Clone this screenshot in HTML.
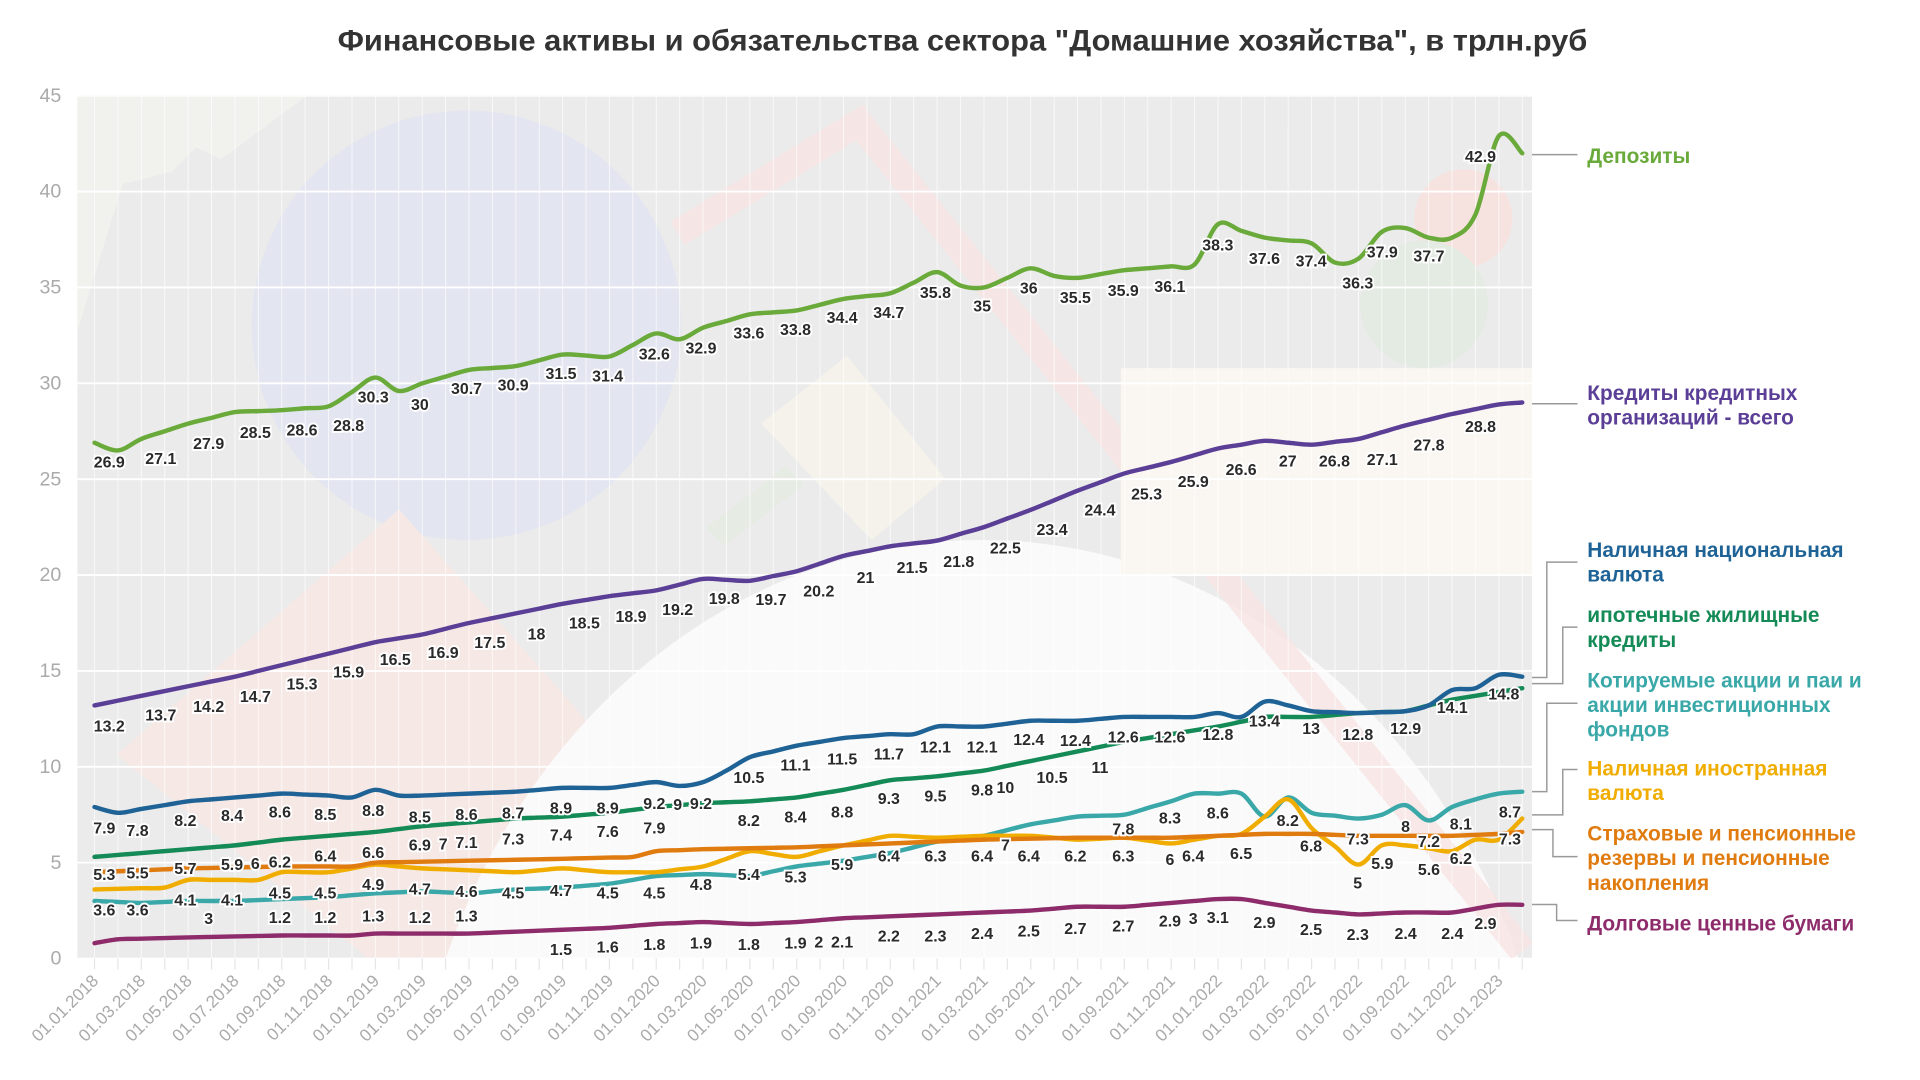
<!DOCTYPE html>
<html><head><meta charset="utf-8"><style>html,body{margin:0;padding:0;background:#fff;width:1920px;height:1080px;overflow:hidden}svg{display:block;overflow:hidden}</style></head>
<body>
<svg id="s" width="1920" height="1080" viewBox="0 0 1564 880" preserveAspectRatio="none" xmlns="http://www.w3.org/2000/svg" font-family="'Liberation Sans Narrow','Liberation Sans',sans-serif">
<text x="784" y="41" text-anchor="middle" font-family="'Liberation Sans',sans-serif" font-weight="bold" font-size="24" fill="#333" textLength="1018" lengthAdjust="spacingAndGlyphs">Финансовые активы и обязательства сектора "Домашние хозяйства", в трлн.руб</text>
<defs><clipPath id="cp"><rect x="63" y="78" width="1185" height="703"/></clipPath></defs>
<rect x="63" y="78" width="1185" height="703" fill="#ebebeb"/>
<g clip-path="url(#cp)">
<polygon points="63,270 100,150 140,140 160,120 180,130 250,78 63,78" fill="#f3f3f0" opacity="0.7"/>
<circle cx="380" cy="265" r="175" fill="#e3e5f0"/>
<polygon points="95,615 325,415 650,781 300,781" fill="#f6e8e5"/>
<ellipse cx="800" cy="980" rx="470" ry="540" fill="#fafafa"/>
<polyline points="552,190 700,100 1240,775" fill="none" stroke="#f7e4e2" stroke-width="22" opacity="0.8"/>
<polygon points="690,290 770,390 710,440 620,345" fill="#f4f2ea"/>
<polygon points="575,430 640,380 655,395 590,445" fill="#e6ece4"/>
<rect x="913" y="300" width="335" height="168" fill="#faf6f1"/>
<circle cx="1192" cy="178" r="40" fill="#f6e2df"/>
<circle cx="1160" cy="248" r="52" fill="#e3ebe3"/>
<g id="grid"></g>
</g>
<g id="axes" fill="#aaa" font-size="16"></g>
<g id="lines" fill="none" stroke-width="3.6" stroke-linejoin="round" stroke-linecap="round"></g>
<g id="labels" font-size="13" font-weight="bold" fill="#2a2a2a" text-anchor="middle" stroke="#fff" stroke-width="3" paint-order="stroke"></g>
<g fill="none" stroke="#999" stroke-width="1.2">
<polyline points="1248,126 1285,126"/>
<polyline points="1248,329 1285,329"/>
<polyline points="1248,552 1260,552 1260,458 1285,458"/>
<polyline points="1248,557 1273,557 1273,511 1285,511"/>
<polyline points="1248,645 1260,645 1260,573 1285,573"/>
<polyline points="1248,664 1273,664 1273,627 1285,627"/>
<polyline points="1248,676 1265,676 1265,698 1285,698"/>
<polyline points="1248,737 1268,737 1268,750 1285,750"/>
</g>
<g font-size="17" font-weight="bold">
<text x="1293" y="133" fill="#6aaa3a">Депозиты</text>
<text x="1293" y="326" fill="#5b3e96">Кредиты кредитных</text><text x="1293" y="346" fill="#5b3e96">организаций - всего</text>
<text x="1293" y="454" fill="#1f6396">Наличная национальная</text><text x="1293" y="474" fill="#1f6396">валюта</text>
<text x="1293" y="507" fill="#148a56">ипотечные жилищные</text><text x="1293" y="527" fill="#148a56">кредиты</text>
<text x="1293" y="560" fill="#3aa8a8">Котируемые акции и паи и</text><text x="1293" y="580" fill="#3aa8a8">акции инвестиционных</text><text x="1293" y="600" fill="#3aa8a8">фондов</text>
<text x="1293" y="632" fill="#f0ad00">Наличная иностранная</text><text x="1293" y="652" fill="#f0ad00">валюта</text>
<text x="1293" y="685" fill="#e07b10">Страховые и пенсионные</text><text x="1293" y="705" fill="#e07b10">резервы и пенсионные</text><text x="1293" y="725" fill="#e07b10">накопления</text>
<text x="1293" y="758" fill="#8e2c6b">Долговые ценные бумаги</text>
</g>
</svg>
<script>
const NS="http://www.w3.org/2000/svg";
const X=i=>77+i*(1240-77)/61, Y=v=>781-v*15.622;
function el(p,t,a,txt){const e=document.createElementNS(NS,t);for(const k in a)e.setAttribute(k,a[k]);if(txt!==undefined)e.textContent=txt;document.getElementById(p).appendChild(e);return e;}
for(let i=0;i<62;i++)el('grid','line',{x1:X(i),x2:X(i),y1:78,y2:781,stroke:'#fff','stroke-width':0.8,opacity:0.7});
for(let v=0;v<=45;v+=5){el('grid','line',{x1:63,x2:1248,y1:Y(v),y2:Y(v),stroke:'#fff','stroke-width':1.5});
 el('axes','text',{x:50,y:Y(v)+5,'text-anchor':'end'},v);}
const months=['01','03','05','07','09','11'];
for(let i=0;i<=61;i++){el('axes','line',{x1:X(i),x2:X(i),y1:781,y2:790,stroke:'#e6e6e6','stroke-width':1});}
for(let i=0;i<=60;i+=2){const yr=2018+Math.floor(i/12);const m=months[(i%12)/2];
 el('axes','text',{x:X(i)+4,y:800,'text-anchor':'end','font-size':14,fill:'#aaa',transform:`rotate(-45 ${X(i)+4} 800)`},`01.${m}.${yr}`);}
function series(pts){pts.sort((a,b)=>a[0]-b[0]);const arr=[];
 for(let i=0;i<=61;i++){let k=0;while(k<pts.length-1&&pts[k+1][0]<i)k++;
  const a=pts[k],b=pts[Math.min(k+1,pts.length-1)];
  let v;const ex=pts.find(p=>p[0]===i);if(ex)v=ex[1];else{const t=(i-a[0])/((b[0]-a[0])||1);v=a[1]+(b[1]-a[1])*t;}
  arr.push([X(i),Y(v)]);}
 let d=`M${arr[0][0]},${arr[0][1]}`;
 for(let i=0;i<arr.length-1;i++){const p0=arr[Math.max(i-1,0)],p1=arr[i],p2=arr[i+1],p3=arr[Math.min(i+2,arr.length-1)];
  d+=`C${p1[0]+(p2[0]-p0[0])/6},${p1[1]+(p2[1]-p0[1])/6} ${p2[0]-(p3[0]-p1[0])/6},${p2[1]-(p3[1]-p1[1])/6} ${p2[0]},${p2[1]}`;}
 return d;}
function even(list,extra){const p=list.map((v,k)=>[k*2,v]);(extra||[]).forEach(e=>{const j=p.findIndex(q=>q[0]===e[0]);if(j>=0)p[j]=e;else p.push(e);});return p;}
const S=[
['#8e2c6b',[[0,0.8],[1,1.0],[4,1.1],[8,1.2],[10,1.2],[11,1.2],[12,1.3],[16,1.3],[18,1.4],[20,1.5],[22,1.6],[24,1.8],[26,1.9],[28,1.8],[30,1.9],[32,2.1],[34,2.2],[36,2.3],[38,2.4],[40,2.5],[42,2.7],[44,2.7],[46,2.9],[48,3.1],[49,3.1],[50,2.9],[52,2.5],[54,2.3],[56,2.4],[58,2.4],[60,2.8],[61,2.8]]],
['#3aa8a8',[[0,3.0],[2,2.9],[4,3.0],[6,3.0],[8,3.1],[10,3.2],[12,3.4],[14,3.5],[16,3.4],[18,3.6],[20,3.7],[22,3.9],[24,4.3],[26,4.4],[28,4.3],[30,4.8],[32,5.1],[34,5.5],[36,6.1],[38,6.4],[40,7.0],[42,7.4],[44,7.5],[46,8.2],[47,8.6],[49,8.6],[50,7.4],[51,8.4],[52,7.6],[54,7.3],[55,7.5],[56,8.0],[57,7.2],[58,7.9],[59,8.3],[60,8.6],[61,8.7]]],
['#f0ad00',[[0,3.6],[3,3.7],[4,4.1],[7,4.1],[8,4.5],[10,4.5],[12,4.9],[14,4.7],[16,4.6],[18,4.5],[20,4.7],[22,4.5],[24,4.5],[26,4.8],[28,5.6],[30,5.3],[32,5.9],[34,6.4],[36,6.3],[38,6.4],[40,6.4],[42,6.2],[44,6.3],[46,6.0],[48,6.4],[49,6.5],[51,8.3],[52,6.8],[54,4.9],[55,5.9],[56,5.9],[58,5.6],[59,6.2],[60,6.2],[61,7.3]]],
['#e07b10',[[0,4.5],[4,4.7],[8,4.8],[11,4.8],[12,5.0],[16,5.1],[20,5.2],[23,5.3],[24,5.6],[26,5.7],[30,5.8],[34,6.0],[38,6.2],[42,6.3],[46,6.3],[50,6.5],[52,6.5],[54,6.4],[58,6.4],[60,6.5],[61,6.6]]],
['#148a56',[[0,5.3],[2,5.5],[4,5.7],[6,5.9],[8,6.2],[10,6.4],[12,6.6],[14,6.9],[16,7.1],[18,7.3],[20,7.4],[22,7.6],[24,7.9],[26,8.1],[28,8.2],[30,8.4],[32,8.8],[34,9.3],[36,9.5],[38,9.8],[40,10.3],[42,10.8],[44,11.3],[46,11.7],[48,12.1],[50,12.6],[52,12.6],[54,12.8],[56,12.9],[58,13.5],[60,13.9],[61,14.1]]],
['#1f6396',[[0,7.9],[1,7.6],[2,7.8],[4,8.2],[6,8.4],[8,8.6],[10,8.5],[11,8.4],[12,8.8],[13,8.5],[14,8.5],[16,8.6],[18,8.7],[20,8.9],[22,8.9],[24,9.2],[25,9.0],[26,9.2],[27,9.8],[28,10.5],[30,11.1],[32,11.5],[34,11.7],[35,11.7],[36,12.1],[38,12.1],[40,12.4],[42,12.4],[44,12.6],[46,12.6],[47,12.6],[48,12.8],[49,12.6],[50,13.4],[51,13.2],[52,12.9],[54,12.8],[56,12.9],[57,13.2],[58,14.0],[59,14.1],[60,14.8],[61,14.7]]],
['#5b3e96',even([13.2,13.7,14.2,14.7,15.3,15.9,16.5,16.9,17.5,18,18.5,18.9,19.2,19.8,19.7,20.2,21,21.5,21.8,22.5,23.4,24.4,25.3,25.9,26.6,27,26.8,27.1,27.8,28.4,28.9],[[61,29.0]])],
['#6aaa3a',even([26.9,27.1,27.9,28.5,28.6,28.8,30.3,30,30.7,30.9,31.5,31.4,32.6,32.9,33.6,33.8,34.4,34.7,35.8,35,36,35.5,35.9,36.1,38.3,37.6,37.3,36.3,38.1,37.6,42.9],[[1,26.5],[13,29.6],[25,32.3],[37,35.1],[41,35.6],[47,36.2],[53,36.3],[54,36.5],[55,37.9],[56,38.1],[57,37.6],[59,38.8],[61,42.0]])]
];
S.forEach(s=>el('lines','path',{d:series(s[1]),stroke:s[0]}));
const L=[[89,376,"26.9"],[131,373,"27.1"],[170,361,"27.9"],[208,352,"28.5"],[246,350,"28.6"],[284,346,"28.8"],[304,323,"30.3"],[342,329,"30"],[380,316,"30.7"],[418,313,"30.9"],[457,304,"31.5"],[495,306,"31.4"],[533,288,"32.6"],[571,283,"32.9"],[610,271,"33.6"],[648,268,"33.8"],[686,258,"34.4"],[724,254,"34.7"],[762,238,"35.8"],[800,249,"35"],[838,234,"36"],[876,242,"35.5"],[915,236,"35.9"],[953,233,"36.1"],[992,199,"38.3"],[1030,210,"37.6"],[1068,212,"37.4"],[1106,230,"36.3"],[1126,205,"37.9"],[1164,208,"37.7"],[1206,127,"42.9"],
[89,591,"13.2"],[131,582,"13.7"],[170,575,"14.2"],[208,567,"14.7"],[246,557,"15.3"],[284,547,"15.9"],[322,537,"16.5"],[361,531,"16.9"],[399,523,"17.5"],[437,516,"18"],[476,507,"18.5"],[514,502,"18.9"],[552,496,"19.2"],[590,487,"19.8"],[628,488,"19.7"],[667,481,"20.2"],[705,470,"21"],[743,462,"21.5"],[781,457,"21.8"],[819,446,"22.5"],[857,431,"23.4"],[896,415,"24.4"],[934,402,"25.3"],[972,392,"25.9"],[1011,382,"26.6"],[1049,375,"27"],[1087,375,"26.8"],[1126,374,"27.1"],[1164,362,"27.8"],[1206,347,"28.8"],
[85,674,"7.9"],[112,676,"7.8"],[151,668,"8.2"],[189,664,"8.4"],[228,661,"8.6"],[265,663,"8.5"],[304,660,"8.8"],[342,665,"8.5"],[380,663,"8.6"],[418,662,"8.7"],[457,658,"8.9"],[495,658,"8.9"],[533,654,"9.2"],[552,655,"9"],[571,654,"9.2"],[610,633,"10.5"],[648,623,"11.1"],[686,618,"11.5"],[724,614,"11.7"],[762,608,"12.1"],[800,608,"12.1"],[838,602,"12.4"],[876,603,"12.4"],[915,600,"12.6"],[953,600,"12.6"],[992,598,"12.8"],[1030,587,"13.4"],[1068,593,"13"],[1106,598,"12.8"],[1145,593,"12.9"],[1183,576,"14.1"],[1225,565,"14.8"],
[610,668,"8.2"],[648,665,"8.4"],[686,661,"8.8"],[724,650,"9.3"],[762,648,"9.5"],[800,643,"9.8"],[819,641,"10"],[857,633,"10.5"],[896,625,"11"],[342,688,"6.9"],[361,687,"7"],[380,686,"7.1"],[418,683,"7.3"],[457,680,"7.4"],[495,677,"7.6"],[533,674,"7.9"],
[85,712,"5.3"],[112,711,"5.5"],[151,707,"5.7"],[189,704,"5.9"],[208,703,"6"],[228,702,"6.2"],[265,697,"6.4"],[304,694,"6.6"],
[85,741,"3.6"],[112,741,"3.6"],[151,733,"4.1"],[189,733,"4.1"],[228,727,"4.5"],[265,727,"4.5"],[304,720,"4.9"],[342,724,"4.7"],[380,726,"4.6"],[418,727,"4.5"],[457,725,"4.7"],[495,727,"4.5"],[533,727,"4.5"],[571,720,"4.8"],[610,712,"5.4"],[648,714,"5.3"],[686,704,"5.9"],[724,697,"6.4"],[762,697,"6.3"],[800,697,"6.4"],[819,688,"7"],[838,697,"6.4"],[876,697,"6.2"],[915,697,"6.3"],[953,700,"6"],[972,697,"6.4"],[1011,695,"6.5"],[915,675,"7.8"],[953,666,"8.3"],[992,662,"8.6"],[1049,668,"8.2"],[1068,689,"6.8"],[1106,683,"7.3"],[1106,719,"5"],[1126,703,"5.9"],[1145,673,"8"],[1164,685,"7.2"],[1164,708,"5.6"],[1190,699,"6.2"],[1190,671,"8.1"],[1230,661,"8.7"],[1230,683,"7.3"],
[170,748,"3"],[228,747,"1.2"],[265,747,"1.2"],[304,746,"1.3"],[342,747,"1.2"],[380,746,"1.3"],[457,773,"1.5"],[495,771,"1.6"],[533,769,"1.8"],[571,768,"1.9"],[610,769,"1.8"],[648,768,"1.9"],[667,767,"2"],[686,767,"2.1"],[724,762,"2.2"],[762,762,"2.3"],[800,760,"2.4"],[838,758,"2.5"],[876,756,"2.7"],[915,754,"2.7"],[953,750,"2.9"],[972,748,"3"],[992,747,"3.1"],[1030,751,"2.9"],[1068,757,"2.5"],[1106,761,"2.3"],[1145,760,"2.4"],[1183,760,"2.4"],[1210,752,"2.9"]];
L.forEach(l=>el('labels','text',{x:l[0],y:l[1]+5},l[2]));
</script>
</body></html>
